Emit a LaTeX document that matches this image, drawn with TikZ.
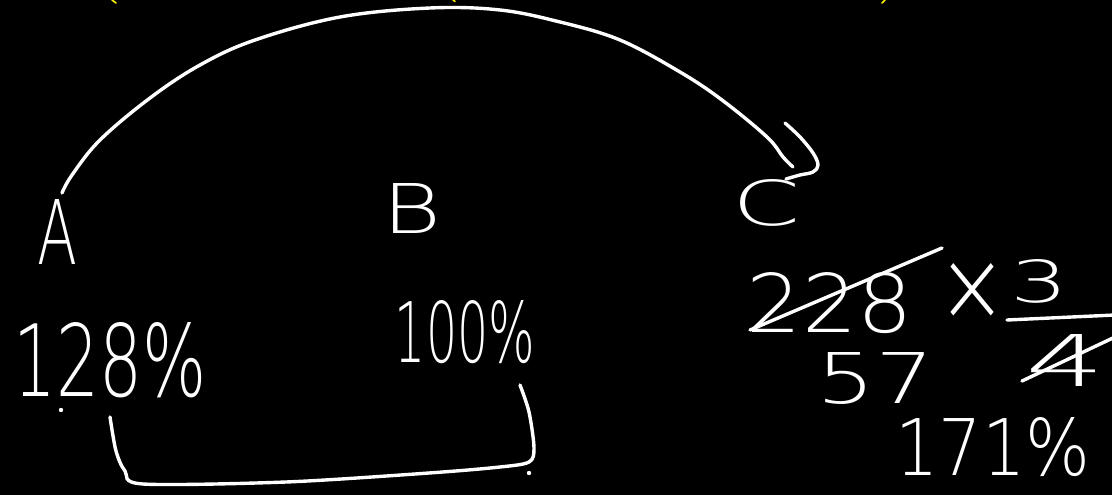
\documentclass[tikz,border=0pt]{standalone}
\usepackage{fontspec}
\newfontfamily\thinhand{DejaVu Sans ExtraLight}
\newcommand{\hw}[3]{\resizebox{#1pt}{#2pt}{\thinhand #3}}
\begin{document}
\begin{tikzpicture}[x=1pt,y=-1pt,
  ink/.style={draw=white,line width=3.4pt,line cap=round,line join=round},
  hand/.style={text=white,inner sep=0pt,anchor=center},
  ymark/.style={draw=yellow,line width=1.6pt,line cap=round}]
\fill[black] (0,0) rectangle (1112,495);
\useasboundingbox (0,0) rectangle (1112,495);
% yellow marks at top edge
\draw[ymark] (112,0) -- (116,3);
\draw[ymark] (453,0) -- (455,1.5);
\draw[ymark] (882,3) -- (885,0);
% letters
\node[hand] (A) at (58,232) {\hw{40}{65}{A}};
\node[hand] (B) at (412,208) {\hw{59}{50}{B}};
\node[hand] (C) at (767,203) {\hw{68}{46}{C}};
% percentages
\node[hand] (pa) at (110,360) {\hw{193}{74}{128\%}};
\node[hand] (pb) at (465,332) {\hw{140}{62}{100\%}};
% calculation
\node[hand] (n228) at (830,303) {\hw{166}{60}{228}};
\node[hand] (times) at (973,292) {\hw{70}{58}{×}};
\node[hand] (three) at (1040,281) {\hw{58}{43}{3}};
\node[hand] (four) at (1066,360) {\hw{80}{52}{4}};
\node[hand] (n57) at (876,378) {\hw{118}{51}{57}};
\node[hand] (pc) at (993,447) {\hw{195}{58}{171\%}};
% fraction bar and strike-throughs
\coordinate (barL) at (1007,320);
\coordinate (barR) at (1115,315);
\draw[ink] (barL) -- (barR);
\coordinate (s1) at (750,330);
\coordinate (s2) at (942,248);
\draw[ink] (s1) -- (s2);
\coordinate (s3) at (1022,381);
\coordinate (s4) at (1115,337);
\draw[ink] (s3) -- (s4);
% big arc from A to C
\coordinate (arcA) at (62,193);
\coordinate (arcC) at (793,167);
\draw[ink] plot[smooth,tension=0.6] coordinates {(arcA) (72,175) (100,140) (150,98) (200,65) (255,40) (340,17) (430,8) (500,10) (560,22) (620,40) (680,72) (722,100) (767,137) (783,157) (arcC)};
% hook at C
\draw[ink] plot[smooth,tension=0.6] coordinates {(785,123) (800,137) (813,153) (818,165) (813,172) (800,175) (786,179)};
% bracket under A and B
\coordinate (brL) at (110,417);
\coordinate (brR) at (520,385);
\draw[ink] plot[smooth,tension=0.5] coordinates {(brL) (116,451) (125,471) (143,484) (286,482) (429,473) (500,467) (529,462) (534,448) (529,412) (brR)};
% stray dots
\fill[white] (61,410) circle (2.2);
\fill[white] (529,473) circle (2.2);
\end{tikzpicture}
\end{document}
